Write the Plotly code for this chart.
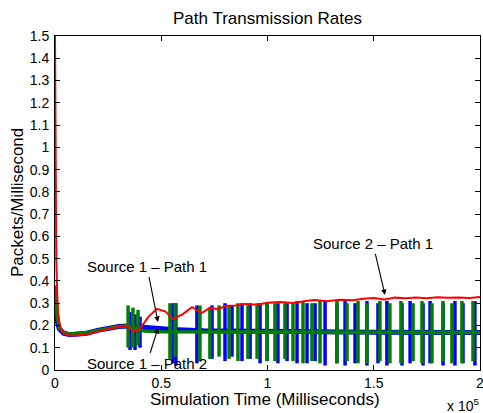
import plotly.graph_objects as go

# ---------------- data ----------------
# Source 2 - Path 1 (red)
red_t = [0, 300, 600, 1000, 1500, 2500, 4000, 7000, 10000, 15000, 20000, 25000, 30000,
         33000, 35000, 37000, 40000, 44000, 48000, 52000, 55500, 60000, 64500, 69000,
         73000, 77000, 80000, 85000, 90000, 95000, 100000, 106000, 112000, 118000,
         122000, 128000, 134000, 140000, 145000, 150000, 155000, 160000, 165000,
         170000, 175000, 180000, 185000, 190000, 195000, 200000]
red_v = [1.5, 0.9, 0.5, 0.35, 0.25, 0.19, 0.165, 0.155, 0.155, 0.16, 0.172, 0.185, 0.195,
         0.2, 0.19, 0.172, 0.185, 0.24, 0.275, 0.262, 0.229, 0.25, 0.282, 0.256,
         0.28, 0.272, 0.288, 0.29, 0.296, 0.293, 0.302, 0.305, 0.301, 0.31,
         0.314, 0.309, 0.316, 0.313, 0.32, 0.323, 0.317, 0.325, 0.322,
         0.326, 0.322, 0.327, 0.324, 0.326, 0.323, 0.328]

# Source 1 - Path 1 (blue) baseline
blue_t = [0, 1000, 2000, 4000, 7000, 10000, 15000, 20000, 25000, 30000, 34000,
          42000, 47000, 55000, 70000, 100000, 150000, 200000]
blue_v = [0.33, 0.22, 0.185, 0.165, 0.158, 0.16, 0.165, 0.178, 0.188, 0.195, 0.198,
          0.19, 0.186, 0.182, 0.176, 0.172, 0.17, 0.168]

# Source 1 - Path 2 (green) baseline
green_t = [0, 1000, 2000, 4000, 7000, 10000, 15000, 20000, 25000, 30000, 34000,
           42000, 50000, 100000, 150000, 200000]
green_v = [0.38, 0.24, 0.19, 0.17, 0.162, 0.163, 0.168, 0.178, 0.188, 0.195, 0.198,
           0.175, 0.172, 0.17, 0.169, 0.168]

# Oscillation bursts (time, top, bottom)
blue_spike_t = [35300, 37650, 40000, 55500, 56900, 66800, 73900, 80000, 83300, 88000,
                91800, 96500, 99800, 104900, 109200, 113900, 118600, 122400, 127100,
                132700, 136500, 141200, 146800, 152000, 156200, 163300, 167100, 173200,
                176500, 182600, 188200, 192000, 197600]
blue_spike_top = [0.26, 0.25, 0.24, 0.3, 0.3, 0.29, 0.29, 0.3, 0.29, 0.3,
                  0.3, 0.3, 0.3, 0.3, 0.3, 0.31, 0.3, 0.3, 0.31,
                  0.3, 0.31, 0.3, 0.31, 0.3, 0.31, 0.3, 0.31, 0.3,
                  0.31, 0.3, 0.31, 0.3, 0.31]
blue_spike_bot = [0.09, 0.09, 0.1, 0.03, 0.02, 0.03, 0.05, 0.04, 0.06, 0.04,
                  0.05, 0.03, 0.04, 0.03, 0.04, 0.03, 0.03, 0.04, 0.02,
                  0.03, 0.02, 0.03, 0.02, 0.03, 0.02, 0.02, 0.03, 0.02,
                  0.03, 0.02, 0.02, 0.03, 0.02]

green_spike_t = [34400, 36700, 39100, 54100, 56500, 68200, 72900, 77200, 81900, 86100,
                 90800, 95100, 99800, 103500, 108200, 112000, 116700, 120900, 124700,
                 132700, 137400, 142600, 146800, 152900, 157600, 162800, 168500, 172700,
                 177400, 182600, 186800, 191500, 196700]
green_spike_top = [0.29, 0.28, 0.27, 0.3, 0.3, 0.29, 0.28, 0.29, 0.29, 0.3,
                   0.29, 0.3, 0.3, 0.3, 0.3, 0.3, 0.31, 0.3, 0.31,
                   0.31, 0.3, 0.31, 0.3, 0.31, 0.3, 0.31, 0.3, 0.31,
                   0.3, 0.31, 0.3, 0.31, 0.31]
green_spike_bot = [0.1, 0.1, 0.11, 0.05, 0.06, 0.04, 0.05, 0.06, 0.05, 0.04,
                   0.05, 0.05, 0.04, 0.04, 0.05, 0.04, 0.03, 0.04, 0.03,
                   0.03, 0.04, 0.03, 0.03, 0.04, 0.03, 0.03, 0.04, 0.03,
                   0.03, 0.04, 0.03, 0.03, 0.04]

x_tickvals = [0, 50000, 100000, 150000, 200000]
x_ticktext = ["0", "0.5", "1", "1.5", "2"]
y_tickvals = [i / 10 for i in range(16)]
y_ticktext = ["0", "0.1", "0.2", "0.3", "0.4", "0.5", "0.6", "0.7", "0.8", "0.9",
              "1", "1.1", "1.2", "1.3", "1.4", "1.5"]

FONT = "Liberation Sans, Arial, Helvetica, sans-serif"
BLUE = "#0000ff"
GREEN = "#007f00"
RED = "#ff0000"


def spikes(ts, tops, bots):
    xs, ys = [], []
    for t, a, b in zip(ts, tops, bots):
        xs += [t, t, None]
        ys += [a, b, None]
    return xs, ys


fig = go.Figure()
fig.add_trace(go.Scatter(x=blue_t, y=blue_v, mode="lines",
                         line=dict(color=BLUE, width=5), hoverinfo="skip"))
bx, by = spikes(blue_spike_t, blue_spike_top, blue_spike_bot)
fig.add_trace(go.Scatter(x=bx, y=by, mode="lines",
                         line=dict(color=BLUE, width=3.5), hoverinfo="skip"))
fig.add_trace(go.Scatter(x=green_t, y=green_v, mode="lines",
                         line=dict(color=GREEN, width=3.5), hoverinfo="skip"))
gx, gy = spikes(green_spike_t, green_spike_top, green_spike_bot)
fig.add_trace(go.Scatter(x=gx, y=gy, mode="lines",
                         line=dict(color=GREEN, width=3.5), hoverinfo="skip"))
fig.add_trace(go.Scatter(x=red_t, y=red_v, mode="lines",
                         line=dict(color=RED, width=2), hoverinfo="skip"))

axis_common = dict(showline=True, linecolor="black", linewidth=1, mirror="ticks",
                   ticks="inside", ticklen=5, tickcolor="black", showgrid=False,
                   zeroline=False, tickfont=dict(family=FONT, size=14, color="black"),
                   automargin=False, ticklabeloverflow="allow")

fig.update_xaxes(range=[0, 200000], tickvals=x_tickvals, ticktext=x_ticktext,
                 **axis_common)
fig.update_yaxes(range=[0, 1.5], tickvals=y_tickvals, ticktext=y_ticktext,
                 ticklabelstandoff=2, **axis_common)

arrow = dict(showarrow=True, arrowhead=2, arrowsize=1, arrowwidth=1.1,
             arrowcolor="black", xref="x", yref="y", axref="x", ayref="y",
             font=dict(family=FONT, size=15, color="black"))
annotations = [
    dict(text="Source 1 – Path 1", x=48470, y=0.2156, ax=43300, ay=0.4626, **arrow),
    dict(text="Source 1 – Path 2", x=48470, y=0.1886, ax=43300, ay=0.0314, **arrow),
    dict(text="Source 2 – Path 1", x=155300, y=0.337, ax=149650, ay=0.566, **arrow),
    dict(text="Simulation Time (Milliseconds)", xref="paper", yref="paper",
         x=0.494, y=-0.087, showarrow=False, yanchor="middle", xanchor="center",
         font=dict(family=FONT, size=17, color="black")),
    dict(text="Packets/Millisecond", xref="paper", yref="paper",
         x=-0.0894, y=0.5, showarrow=False, textangle=-90, xanchor="center",
         yanchor="middle", font=dict(family=FONT, size=17, color="black")),
    dict(text="x 10<sup>5</sup>", xref="paper", yref="paper",
         x=0.96, y=-0.105, showarrow=False, yanchor="middle", xanchor="center",
         font=dict(family=FONT, size=14, color="black")),
]

fig.update_layout(
    width=483, height=413,
    margin=dict(l=55, r=3, t=36, b=43),
    paper_bgcolor="white", plot_bgcolor="white",
    showlegend=False,
    title=dict(text="Path Transmission Rates", x=0.5, xref="paper",
               y=1 - 18 / 413, yref="container", yanchor="middle",
               font=dict(family=FONT, size=17, color="black")),
    annotations=annotations,
)

# remove the page's default body margin so the figure fills the window exactly
fig.write_html("out.html",
               config={"displayModeBar": False},
               post_script="document.body.style.margin='0';"
                           "document.body.style.overflow='hidden';")
